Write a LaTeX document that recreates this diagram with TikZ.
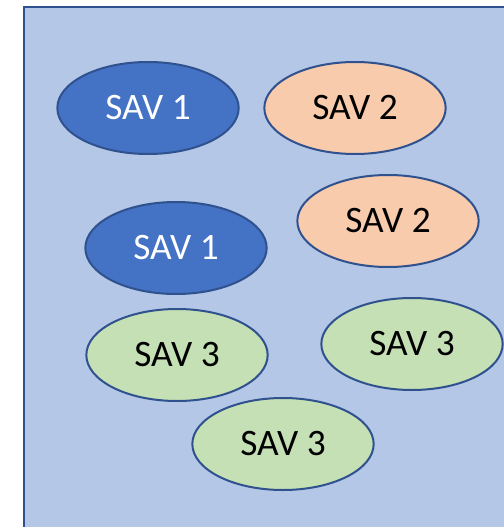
\documentclass[tikz,border=0pt]{standalone}
\usepackage{fontspec}
\setmainfont{Carlito}
\usetikzlibrary{shapes.geometric}

\definecolor{panel}{HTML}{B4C7E7}
\definecolor{edge}{HTML}{2F528F}
\definecolor{blueav}{HTML}{4472C4}
\definecolor{orangeav}{HTML}{F8CBAD}
\definecolor{greenav}{HTML}{C5E0B4}

\begin{document}
\begin{tikzpicture}[x=0.75pt,y=-0.75pt,
  sav/.style={ellipse,draw=edge,line width=1.5pt,minimum width=136pt,
    minimum height=69pt,inner sep=0pt,font=\fontsize{28}{32}\selectfont},
  sav1/.style={sav,fill=blueav,text=white},
  sav2/.style={sav,fill=orangeav,text=black},
  sav3/.style={sav,fill=greenav,text=black}]
\useasboundingbox (0,0) rectangle (503,527);
\fill[panel] (24,7) rectangle (510,535);
\draw[edge,line width=1.5pt] (510,7) -- (24,7) -- (24,535);

\node[sav1] (a1) at (148,108) {SAV 1};
\node[sav2] (b1) at (355,108) {SAV 2};
\node[sav2] (b2) at (388,221) {SAV 2};
\node[sav1] (a2) at (176,248) {SAV 1};
\node[sav3] (c1) at (412,344) {SAV 3};
\node[sav3] (c2) at (177,355) {SAV 3};
\node[sav3] (c3) at (283,444) {SAV 3};
\end{tikzpicture}
\end{document}
